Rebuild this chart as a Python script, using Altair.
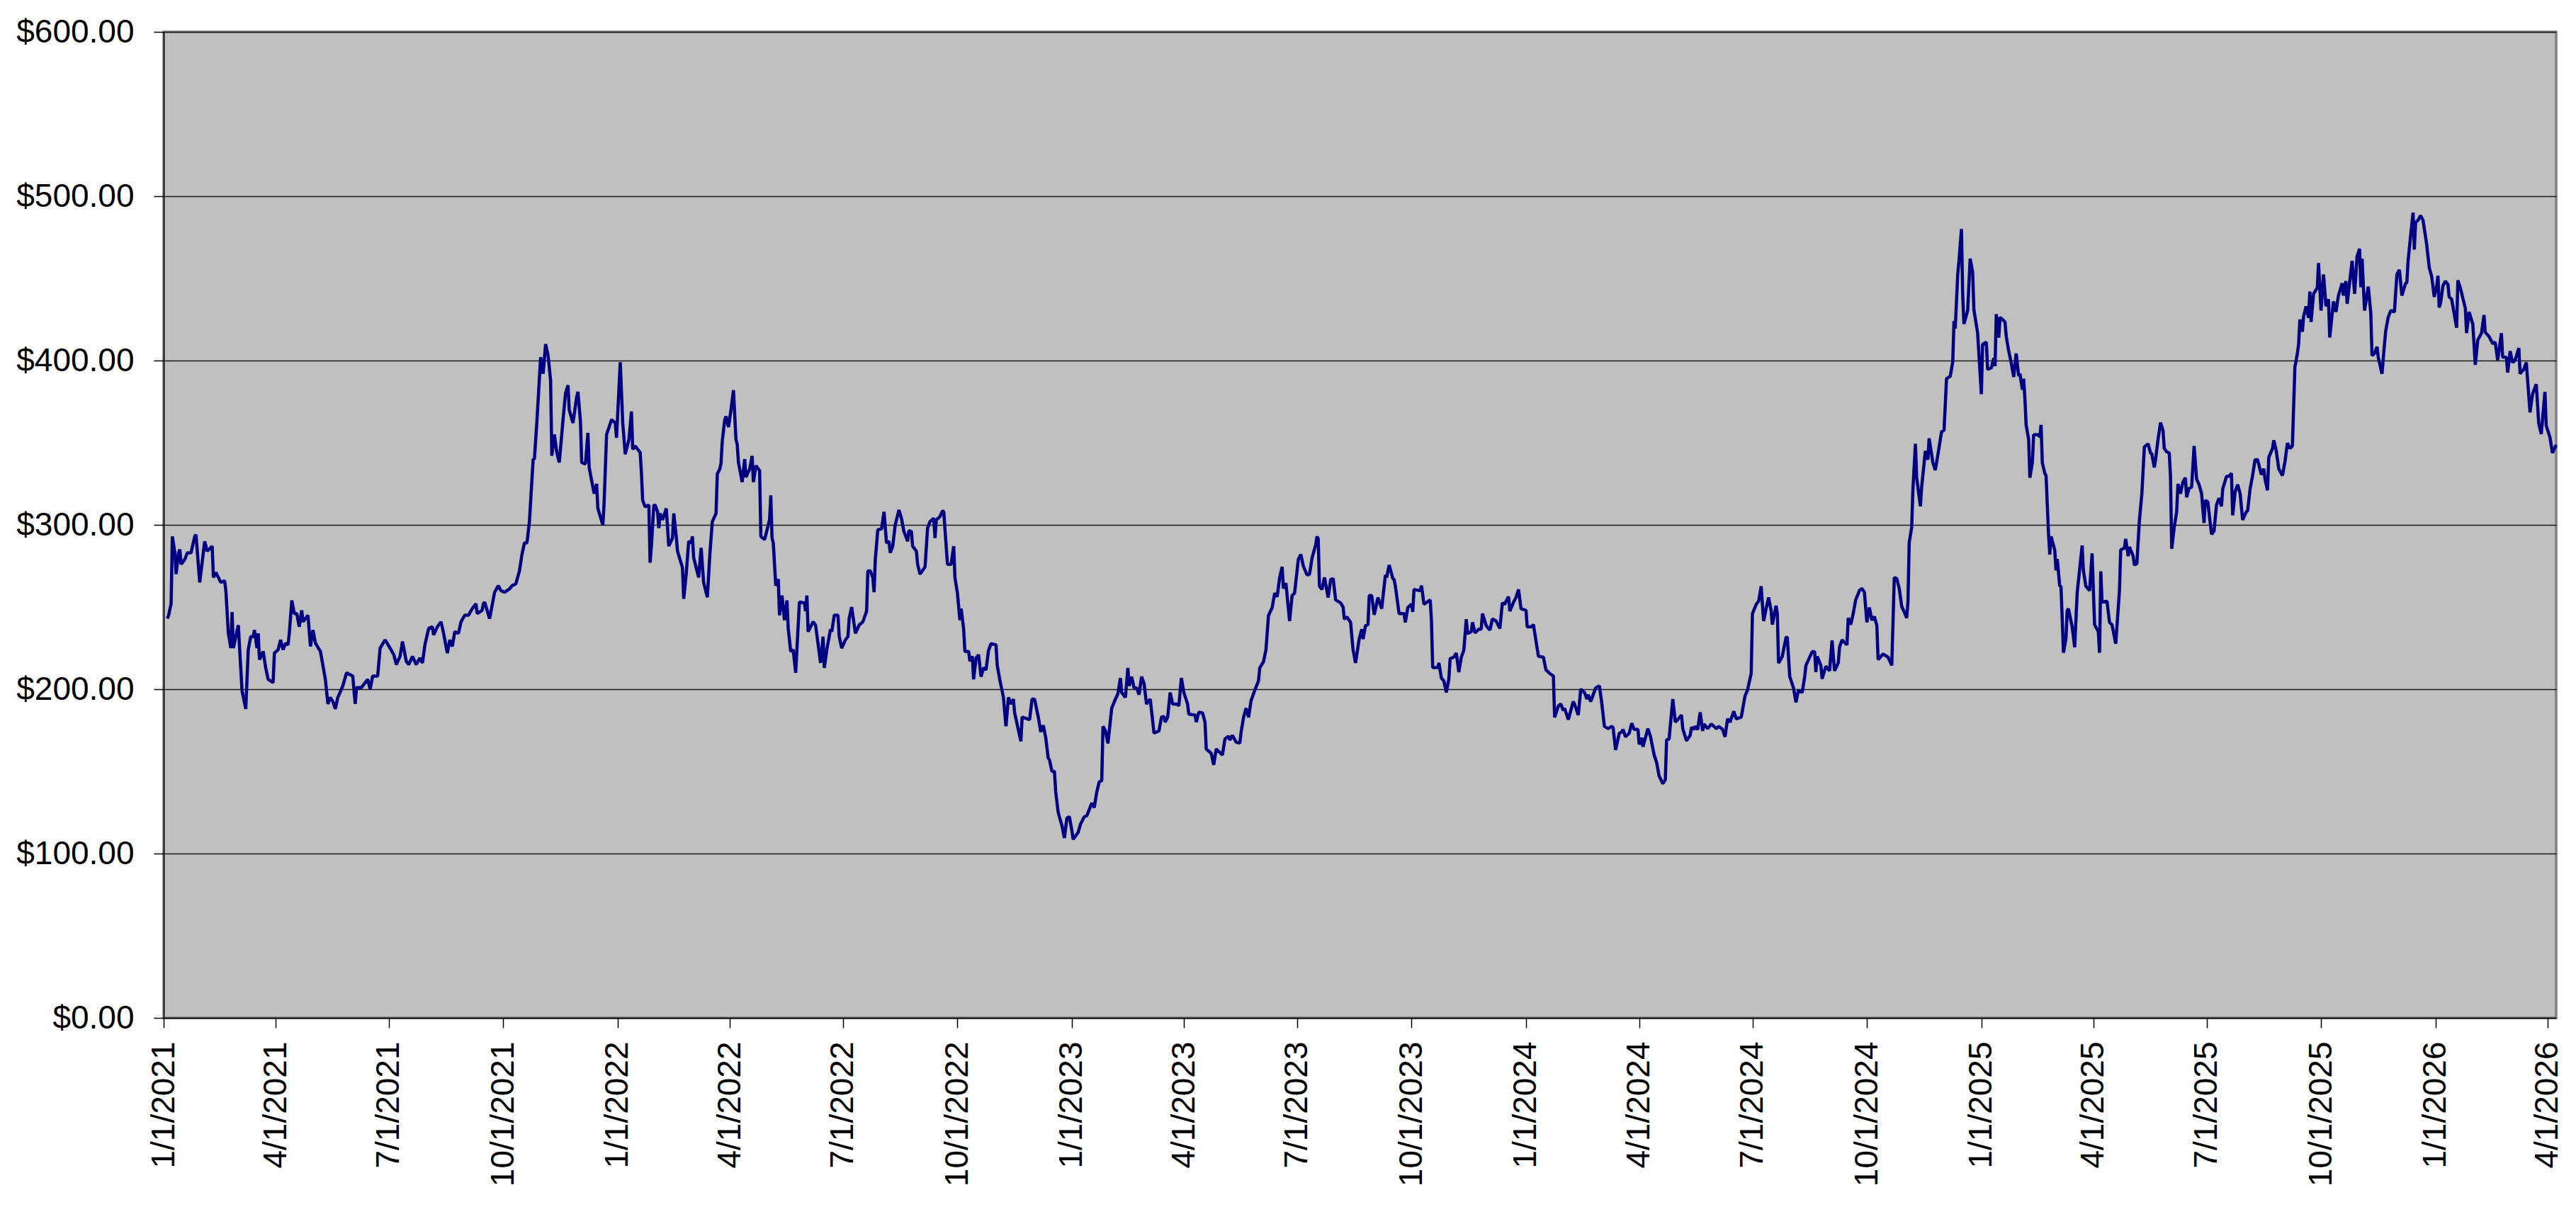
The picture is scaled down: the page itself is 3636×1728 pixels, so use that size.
import altair as alt
import pandas as pd

# (days since 1/1/2021, closing price), one list per stretch
stretch_2021 = [(3,243),(4,245),(6,252),(7,293),(9,283),(10,270),(12,283),(13,285),(14,276),(17,279),(19,283),(22,283),(25,293),(26,294),(29,265),(33,290),(35,284),(39,287),(40,268),(42,271),(46,265),(49,266),(50,260),(52,234),(54,225),(55,247),(56,225),(60,239),(63,199),(66,188),(68,224),(70,232),(72,232),(73,236),(75,225),(76,234),(77,218),(80,223),(82,213),(84,206),(88,204),(89,222),(92,224),(94,230),(96,224),(98,228),(100,227),(101,234),(103,254),(105,246),(107,246),(109,238),(111,248),(112,241),(116,245),(118,226),(120,236),(122,228),(126,223),(130,206),(132,191),(134,195),(136,192.5),(138,188),(140,195),(144,202),(147,210),(152,208),(154,191),(155,201),(159,201),(162,204),(164,206),(166,200),(168,208),(172,208),(174,225),(178,230),(182,225),(185,221),(187,215),(190,220),(192,229),(195,217),(197,215),(200,220),(203,215),(206,219),(208,216),(210,227),(213,237),(216,238),(217,233),(220,238),(223,241),(225,234),(228,222),(230,230),(232,226),(234,235),(237,234),(239,241),(242,245),(245,245),(248,249),(251,252),(252,246),(256,248),(257,252),(258,253),(262,243),(266,259),(269,263),(271,260),(274,259),(278,261),(280,263),(283,264),(286,272),(288,282),(290,289),(292,289),(294,302),(297,340),(298,340),(300,363),(303,402),(305,392),(307,410),(309,403),(311,388),(312,342),(314,355),(316,344),(318,338),(321,364),(323,380),(325,385),(326,370),(329,362),(332,378),(333,381),(335,363),(336,338),(339,337),(341,356),(342,335),(346,319),(348,325),(349,310),(353,300),(354,313),(356,355),(360,364),(363,362),(364,353),(367,399),(369,362),(371,343),(374,352),(376,369),(377,346),(379,348),(383,344),(384,332),(385,315),(387,311),(390,312),(391,277),(392,287),(394,312)]

stretch_2022 = [(395,312),(397,308),(398,298),(399,307),(401,303),(404,310),(406,287),(409,292),(410,307),(412,293),(413,284),(417,274),(418,255),(420,270),(422,290),(424,289),(425,293),(426,280),(430,268),(432,286),(434,265),(437,256),(439,282),(441,302),(444,307),(445,331),(447,334),(448,337.5),(449,351),(451,364),(452,366),(454,359.5),(456,370),(458,382),(460,352),(461,349),(462,338),(465,326),(467,340),(468,329),(471,334),(473,342),(474,326),(476,336),(479,333),(480,293),(483,291),(487,303),(488,318),(489,292),(490,289),(492,263),(494,267),(495,245),(497,257),(499,242),(501,254),(502,237),(504,223),(506,224),(508,210),(511,253),(515,252.5),(516,247.5),(517,257),(518,235),(522,241),(524,239),(528,216),(530,232),(531,213),(533,224),(536,236.5),(537,235),(539,245),(542,245),(543,232),(545,225),(548,230),(550,232),(551,243),(553,250),(556,234),(559,239),(562,241),(565,247.5),(566,272),(568,272),(570,268),(571,259),(572,279),(574,297),(577,297.6),(578,302.5),(579,308),(581,289),(583,290),(584,283),(586,287),(588,300),(591,309),(593,304),(595,296),(598,290),(599,296.5),(601,296),(602,287),(605,284),(606,276),(608,270),(612,274.5),(614,298),(616,302),(619,304),(620,292),(621,303),(624,305),(626,308.6),(627,308),(630,276),(633,276),(635,287),(636,268),(638,258.5),(640,242),(641,249),(643,236.5),(644,223),(647,223),(648,217),(650,220),(651,206),(653,219),(655,221),(657,207.6),(659,213),(661,211.8),(663,223.6),(665,227.7),(669,227),(670,214.5),(672,206),(675,195),(677,177.4),(679,195),(681,191),(683,194),(684,185.6),(689,168.3),(690,183),(696,181.5),(698,194),(700,194),(703,183),(705,174),(707,178),(709,170.5),(711,158),(712,157),(714,150),(716,150),(717,137.5),(719,125),(722,117),(724,109.5),(726,121.6),(728,122.4),(730,114),(731,108.6),(735,112.8),(737,118),(740,122.4),(742,123),(746,130.7),(748,128),(750,137.5),(752,143.6),(754,144.4),(755,177.4),(757,174.6),(759,167),(762,188.4),(765,194),(767,197.2),(769,206.8),(770,198),(773,195),(775,213),(776,202),(778,207.6),(780,200.8)]

stretch_2023 = [(782,200.8),(784,196.7),(786,207.6),(788,203.5),(790,191),(793,194),(796,173.3),(800,174.6),(802,183),(804,183.4),(805,180),(807,183),(809,198),(811,191),(814,191),(816,190),(818,206.8),(820,198),(823,191),(824,184.8),(829,184.3),(830,180),(832,186),(835,185.6),(837,180),(838,163.6),(842,161),(844,154),(846,163.6),(851,160),(853,169.7),(856,171.4),(857,169),(859,172),(862,167.8),(865,167.2),(866,173.8),(868,182.9),(870,188.4),(872,182.9),(874,193),(877,199.4),(880,205),(881,213),(884,216.7),(886,224),(888,244.8),(891,249.7),(893,258.5),(895,256.3),(897,268),(899,274.5),(900,261.3),(902,264.6),(905,241.5),(907,257),(909,258.5),(912,279),(914,282),(916,275),(919,269.5),(921,270),(923,279.7),(926,288),(927,293),(928,291.5),(929,262.7),(931,260.7),(933,268),(934,264),(936,255.8),(938,266.8),(940,267.3),(942,254.4),(946,252.5),(948,250),(949,242.6),(951,244),(954,240.7),(956,224),(958,216),(961,231),(963,236.5),(964,230.5),(966,238.7),(968,239.3),(969,257),(971,257),(973,245.3),(976,255.8),(979,249),(982,269.5),(983,268),(985,275.6),(988,267.3),(989,266.8),(990,262.7),(993,246),(997,246),(998,240.7),(1000,249.7),(1003,251.7),(1004,247),(1005,260.7),(1008,260.2),(1010,260),(1011,263),(1013,251.7),(1018,254.4),(1019,242),(1020,213.2),(1024,213.2),(1025,216),(1027,206.8),(1029,205),(1031,198),(1033,206.3),(1034,218.6),(1037,219.5),(1039,222),(1041,210.4),(1043,219.5),(1045,223.6),(1047,242.6),(1048,233.8),(1051,235),(1052,240.7),(1054,234.3),(1057,236.5),(1059,236.5),(1060,246),(1063,238.7),(1066,236),(1068,242.8),(1071,241.5),(1074,237),(1076,252.5),(1078,251.7),(1079,253.6),(1081,256.3),(1082,247.5),(1085,253),(1087,255.8),(1089,260.7),(1091,249),(1095,248),(1096,237.9),(1099,237.9),(1101,239.3),(1102,234.3),(1105,220),(1109,219.5),(1111,211.8),(1114,209.6),(1117,208),(1118,182.9),(1121,189.8),(1123,191),(1125,187),(1126,188.4),(1129,181.5),(1133,192.5),(1134,191),(1137,184.3),(1139,200),(1142,198),(1144,194),(1145,196.7),(1147,192.5),(1151,200.8),(1154,202),(1156,191),(1158,177.4),(1161,176)]

stretch_2024 = [(1164,177.4),(1165,176.6),(1167,163),(1170,173.3),(1172,174),(1173,175.5),(1175,171),(1178,173.3),(1180,179.3),(1182,175.5),(1185,175.5),(1186,166.4),(1188,170.5),(1189,165),(1193,176),(1195,171.4),(1198,160),(1200,155.4),(1202,147.2),(1205,142.5),(1207,145),(1208,169.2),(1210,169.7),(1213,194),(1215,180),(1217,181.5),(1220,184.3),(1221,176),(1224,168.6),(1227,172),(1228,176.8),(1230,175.5),(1231,177.4),(1233,175.5),(1235,186),(1237,174.6),(1238,178.8),(1241,176),(1244,178.8),(1248,176),(1250,177.4),(1253,175.5),(1255,171),(1257,182),(1259,180),(1262,186.5),(1264,182),(1268,182.9),(1271,195.8),(1273,199.4),(1276,209.6),(1277,246),(1280,251.6),(1282,253.6),(1284,262.7),(1286,241.5),(1288,249),(1290,255.8),(1292,248),(1293,239.3),(1296,250.8),(1297,246),(1298,215.9),(1301,220),(1304,231.6),(1305,231.6),(1307,207.6),(1310,200.8),(1312,192),(1314,199.4),(1317,198),(1319,207.6),(1320,214.5),(1325,222.8),(1327,222.8),(1328,210.4),(1329,220),(1332,214.5),(1333,206.3),(1336,214),(1339,211.2),(1341,229.7),(1343,211.2),(1346,216),(1347,225.5),(1349,230),(1353,227),(1354,243.4),(1356,239.3),(1358,246),(1360,254.4),(1363,260),(1365,261.3),(1367,259),(1369,240.7),(1371,249.7),(1373,242),(1375,244.2),(1377,238.7),(1378,218),(1382,221.4),(1386,219.5),(1389,214.5),(1391,268),(1393,267.3),(1395,261.3),(1397,250.3),(1399,247),(1401,243.4),(1402,253),(1403,289.3),(1405,298.4),(1406,321.8),(1408,349.3),(1409,328.7),(1412,311.3),(1413,323),(1416,345),(1418,339.7),(1419,352.6),(1422,338),(1424,333.3),(1427,347),(1429,356.7),(1431,357.5),(1433,389),(1436,390.5),(1438,399.3),(1439,424),(1440,419.4),(1442,452.4),(1443,460.7),(1445,480),(1446,440),(1447,422.2),(1450,430.4),(1452,462),(1454,453.8),(1455,431),(1458,416.7),(1461,379.5),(1462,409.8),(1465,411.2),(1466,394.7),(1469,395.5),(1471,401.5),(1472,396.6),(1473,428.2),(1475,414),(1476,426.3),(1480,423.5),(1481,414.7),(1483,405.7),(1485,398.8),(1487,390),(1489,404.3),(1491,390.5),(1492,392),(1494,382.3),(1495,389),(1496,376.8),(1497,360.8),(1499,352),(1500,328.7),(1502,338),(1503,354.8),(1507,354.8),(1508,353.4),(1509,360.8),(1510,337.7),(1512,331.4),(1513,330),(1515,294.3),(1516,282),(1517,293),(1520,284.7),(1521,272.3),(1522,279.2),(1524,262.7),(1525,262.7),(1527,222.2),(1529,231),(1530,248),(1531,248.9),(1534,237.9),(1536,225.5)]

stretch_2025 = [(1538,258.5),(1542,287.4),(1543,272.3),(1545,262.7),(1548,260),(1550,282.7),(1552,239.3),(1555,235),(1556,222.2),(1557,271.7),(1558,253),(1562,253.6),(1564,240.7),(1566,239.3),(1569,227.7),(1572,260),(1573,284.7),(1576,286),(1577,291.5),(1579,281),(1580,286.6),(1583,281),(1584,275.6),(1586,276.4),(1588,302.5),(1590,319),(1592,347.4),(1595,349.3),(1597,343.8),(1598,343.2),(1600,335),(1601,339.7),(1603,352),(1605,362.2),(1607,357.5),(1608,346.5),(1610,344.4),(1612,343.8),(1613,330),(1614,285.5),(1616,298.4),(1618,308),(1619,325),(1621,319),(1623,326),(1625,328.7),(1626,316.8),(1628,322.3),(1630,323),(1632,348),(1634,327.8),(1636,324.5),(1638,319),(1640,301.2),(1641,314.9),(1643,314),(1646,294.3),(1648,296.2),(1650,312.2),(1652,316.3),(1654,311.3),(1655,321.8),(1658,329.5),(1660,329.5),(1662,331.4),(1663,305.8),(1665,320.3),(1667,324.5),(1669,319),(1671,303),(1674,308),(1675,308.6),(1677,321.8),(1679,330),(1681,339.7),(1683,339.7),(1686,330.6),(1688,334.2),(1689,327.8),(1691,321),(1692,341),(1695,346.5),(1696,351.5),(1698,345.2),(1700,334.2),(1703,330),(1705,338.3),(1707,349.8),(1709,346.5),(1711,348),(1713,396),(1715,404.3),(1716,409.8),(1717,425),(1719,417.5),(1720,426.8),(1722,433),(1724,426),(1725,442),(1726,423.5),(1728,440.6),(1731,444.2),(1732,459.3),(1734,430.4),(1736,452.4),(1738,433),(1740,437.3),(1741,414),(1744,436),(1746,429.6),(1748,439.5),(1751,447),(1752,439.5),(1754,448.3),(1755,434.5),(1759,460.7),(1761,440.6),(1763,463.4),(1765,468),(1766,444.6),(1767,462),(1769,430.4),(1772,445),(1774,429),(1775,403),(1777,404.3),(1779,408.4),(1780,402),(1783,391.9),(1785,409.8),(1786,418),(1788,426.3),(1790,430.4),(1793,429.6),(1795,452.4),(1797,455.2),(1799,439.5),(1802,447),(1803,447.5),(1804,460.7),(1806,475.8),(1808,490),(1809,467.5),(1810,484),(1812,485.4),(1814,488.2),(1816,485.4),(1819,470.3),(1821,456.5),(1823,451),(1825,438.7),(1827,445.5),(1828,451.6),(1829,432.3),(1830,434.5),(1832,445.5),(1834,448.3),(1836,446.4),(1837,438.7),(1839,437.3),(1843,420),(1844,448.8),(1846,444.2),(1850,431.8),(1851,416.7),(1853,429.6),(1856,422.2),(1858,397.4),(1860,412.5),(1863,416.7),(1865,427.7),(1866,417.2),(1869,414.7),(1872,410.3),(1874,411.2),(1876,400.2),(1879,416.7),(1880,402),(1883,402),(1884,392.7),(1886,405.7),(1888,398.8),(1890,400.2),(1893,407.6),(1894,392),(1897,394.7),(1899,398.8),(1902,368.5),(1904,379.5),(1907,385.6),(1909,361.7),(1911,355.3),(1914,381),(1915,360.4),(1918,353.4),(1920,343.8),(1923,348.7)]

x_tick_labels = ["1/1/2021", "4/1/2021", "7/1/2021", "10/1/2021",
                 "1/1/2022", "4/1/2022", "7/1/2022", "10/1/2022",
                 "1/1/2023", "4/1/2023", "7/1/2023", "10/1/2023",
                 "1/1/2024", "4/1/2024", "7/1/2024", "10/1/2024",
                 "1/1/2025", "4/1/2025", "7/1/2025", "10/1/2025",
                 "1/1/2026", "4/1/2026"]
y_tick_values = [0, 100, 200, 300, 400, 500, 600]
axis_end_date = "4/8/2026"

start = pd.Timestamp("2021-01-01")
pairs = stretch_2021 + stretch_2022 + stretch_2023 + stretch_2024 + stretch_2025
df = pd.DataFrame({
    "date": [(start + pd.Timedelta(days=d)).strftime("%Y-%m-%d") for d, _ in pairs],
    "price": [p for _, p in pairs],
    "seq": list(range(len(pairs))),
})


def to_dt(label):
    m, d, y = (int(v) for v in label.split("/"))
    return alt.DateTime(year=y, month=m, date=d, utc=True)


FONT = "Liberation Sans"
FONT_SIZE = 46

chart = (
    alt.Chart(df)
    .mark_line(color="#000080", strokeWidth=4.5, strokeJoin="bevel")
    .encode(
        x=alt.X(
            "date:T",
            scale=alt.Scale(type="utc", domain=[to_dt(x_tick_labels[0]), to_dt(axis_end_date)], nice=False),
            axis=alt.Axis(
                values=[to_dt(t) for t in x_tick_labels],
                labelExpr="utcFormat(datum.value, '%-m/%-d/%Y')",
                title=None,
                grid=False,
                labelAngle=270,
                labelAlign="right",
                labelBaseline="middle",
                labelPadding=19,
                labelFlush=False,
                labelOverlap=False,
                labelBound=False,
                labelLimit=0,
                labelFont=FONT,
                labelFontSize=FONT_SIZE,
                labelColor="#000000",
                tickColor="#000000",
                tickSize=14,
                tickWidth=1.5,
                domainColor="#000000",
                domainWidth=1.5,
            ),
        ),
        y=alt.Y(
            "price:Q",
            scale=alt.Scale(domain=[0, 600], nice=False, zero=True),
            axis=alt.Axis(
                values=y_tick_values,
                format="$.2f",
                title=None,
                grid=True,
                gridColor="#1a1a1a",
                gridWidth=1.3,
                labelPadding=28,
                labelLimit=0,
                labelFont=FONT,
                labelFontSize=FONT_SIZE,
                labelColor="#000000",
                tickColor="#000000",
                tickSize=14,
                tickWidth=1.5,
                domainColor="#000000",
                domainWidth=1.5,
            ),
        ),
        order="seq:Q",
    )
    .properties(
        width=3377,
        height=1392,
        padding={"left": 223, "top": 37, "right": 20, "bottom": 250},
        autosize=alt.AutoSizeParams(type="none"),
        background="#FFFFFF",
    )
    .configure_view(fill="#C0C0C0", stroke="#808080", strokeWidth=3.5)
)

chart.save("out.html", embed_options={"renderer": "svg", "actions": False})
